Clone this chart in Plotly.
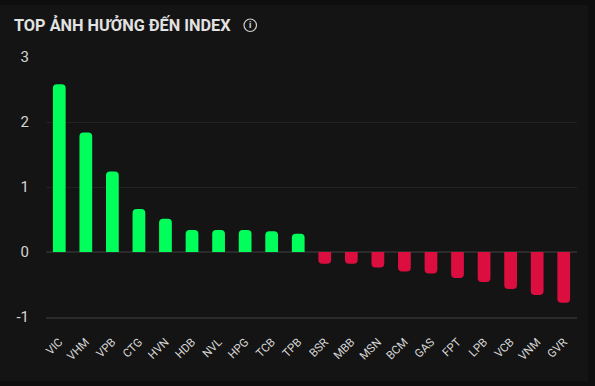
import plotly.graph_objects as go

tickers = ["VIC", "VHM", "VPB", "CTG", "HVN", "HDB", "NVL", "HPG", "TCB", "TPB",
           "BSR", "MBB", "MSN", "BCM", "GAS", "FPT", "LPB", "VCB", "VNM", "GVR"]
impact = [2.58, 1.84, 1.24, 0.66, 0.51, 0.34, 0.34, 0.34, 0.32, 0.28,
          -0.18, -0.18, -0.24, -0.30, -0.33, -0.40, -0.46, -0.57, -0.66, -0.78]
y_ticks = [-1, 0, 1, 2, 3]
title_text = "TOP ẢNH HƯỞNG ĐẾN INDEX"

GREEN = "#00ff5a"
RED = "#dc0d3f"
colors = [GREEN if v >= 0 else RED for v in impact]

fig = go.Figure(go.Bar(
    x=tickers, y=impact, marker=dict(color=colors, line=dict(width=0)),
    hoverinfo="x+y",
))

fig.update_layout(
    width=595, height=386,
    margin=dict(l=46, r=18, t=57, b=69),
    paper_bgcolor="#0e0e0e",
    plot_bgcolor="rgba(0,0,0,0)",
    bargap=0.52,
    barcornerradius=4,
    showlegend=False,
    font=dict(family="Roboto, Arial, sans-serif", color="#d6d6d6"),
    shapes=[
        dict(type="rect", xref="paper", yref="paper", layer="below",
             x0=-46/531, x1=(588-46)/531, y0=-(381-317)/260, y1=(317-5)/260,
             fillcolor="#141414", line=dict(width=0)),
        dict(type="circle", xref="paper", yref="paper",
             x0=(244-46)/531, x1=(256.5-46)/531, y0=(317-31.5)/260, y1=(317-19)/260,
             line=dict(color="#cfcfcf", width=1.2), fillcolor="rgba(0,0,0,0)"),
    ],
    annotations=[
        dict(text="<b>" + title_text + "</b>", xref="paper", yref="paper",
             x=(12-46)/531, y=(317-25)/260, xanchor="left", yanchor="middle",
             showarrow=False, font=dict(size=16.3, color="#e2e2e2")),
        dict(text="<b>i</b>", xref="paper", yref="paper",
             x=(250.3-46)/531, y=(317-25.3)/260, xanchor="center", yanchor="middle",
             showarrow=False, font=dict(size=9, color="#d6d6d6")),
    ],
)

fig.update_yaxes(
    range=[-1, 3], tickvals=y_ticks, ticktext=[str(v) for v in y_ticks],
    showgrid=True, gridcolor="#222222", gridwidth=1,
    zeroline=True, zerolinecolor="#2a2a2a", zerolinewidth=1.5,
    tickfont=dict(size=15, color="#d6d6d6"),
    ticklabelstandoff=16, showline=False,
)
fig.update_xaxes(
    tickangle=-45, tickfont=dict(size=11.5, color="#d6d6d6"),
    showline=True, linecolor="#2a2a2a", linewidth=1.5,
    ticklabelstandoff=12, showgrid=False,
)

fig.write_html("out.html")
